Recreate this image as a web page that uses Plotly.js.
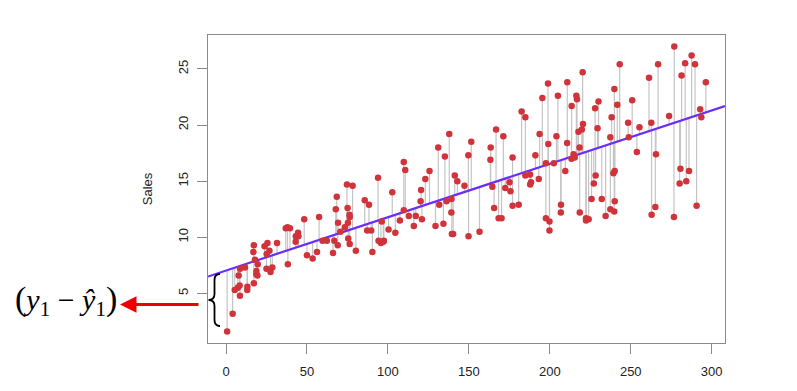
<!DOCTYPE html>
<html>
<head>
<meta charset="utf-8">
<script src="https://cdn.plot.ly/plotly-3.0.1.min.js"></script>
<style>html,body{margin:0;padding:0;background:#fff;}#chart{width:797px;height:391px;}</style>
</head>
<body>
<div id="chart"></div>
<script>
// Advertising data: TV budget and Sales
const tv = [230.1,44.5,17.2,151.5,180.8,8.7,57.5,120.2,8.6,199.8,66.1,214.7,23.8,97.5,204.1,195.4,67.8,281.4,69.2,147.3,
218.4,237.4,13.2,228.3,62.3,262.9,142.9,240.1,248.8,70.6,292.9,112.9,97.2,265.6,95.7,290.7,266.9,74.7,43.1,228,
202.5,177,293.6,206.9,25.1,175.1,89.7,239.9,227.2,66.9,199.8,100.4,216.4,182.6,262.7,198.9,7.3,136.2,210.8,210.7,
53.5,261.3,239.3,102.7,131.1,69,31.5,139.3,237.4,216.8,199.1,109.8,26.8,129.4,213.4,16.9,27.5,120.5,5.4,116,
76.4,239.8,75.3,68.4,213.5,193.2,76.3,110.7,88.3,109.8,134.3,28.6,217.7,250.9,107.4,163.3,197.6,184.9,289.7,135.2,
222.4,296.4,280.2,187.9,238.2,137.9,25,90.4,13.1,255.4,225.8,241.7,175.7,209.6,78.2,75.1,139.2,76.4,125.7,19.4,
141.3,18.8,224,123.1,229.5,87.2,7.8,80.2,220.3,59.6,0.7,265.2,8.4,219.8,36.9,48.3,25.6,273.7,43,184.9,
73.4,193.7,220.5,104.6,96.2,140.3,240.1,243.2,38,44.7,280.7,121,197.6,171.3,187.8,4.1,93.9,149.8,11.7,131.7,
172.5,85.7,188.4,163.5,117.2,234.5,17.9,206.8,215.4,284.3,50,164.5,19.6,168.4,222.4,276.9,248.4,170.2,276.7,165.6,
156.6,218.5,56.2,287.6,253.8,205,139.5,191.1,286,18.7,39.5,75.5,17.2,166.8,149.7,38.2,94.2,177,283.6,232.1];
const sales = [22.1,10.4,9.3,18.5,12.9,7.2,11.8,13.2,4.8,10.6,8.6,17.4,9.2,9.7,19,22.4,12.5,24.4,11.3,14.6,
18,12.5,5.6,15.5,9.7,12,15,15.9,18.9,10.5,21.4,11.9,9.6,17.4,9.5,12.8,25.4,14.7,10.1,21.5,
16.6,17.1,20.7,12.9,8.5,14.9,10.6,23.2,14.8,9.7,11.4,10.7,22.6,21.2,20.2,23.7,5.5,13.2,23.8,18.4,
8.1,24.2,15.7,14,18,9.3,9.5,13.4,18.9,22.3,18.3,12.4,8.8,11,17,8.7,6.9,14.2,5.3,11,
11.8,12.3,11.3,13.6,21.7,15.2,12,16,12.9,16.7,11.2,7.3,19.4,22.2,11.5,16.9,11.7,15.5,25.4,17.2,
11.7,23.8,14.8,14.7,20.7,19.2,7.2,8.7,5.3,19.8,13.4,21.8,14.1,15.9,14.6,12.6,12.2,9.4,15.9,6.6,
15.5,7,11.6,15.2,19.7,10.6,6.6,8.8,24.7,9.7,1.6,12.7,5.7,19.6,10.8,11.6,9.5,20.8,9.6,20.7,
10.9,19.2,20.1,10.4,11.4,10.3,13.2,25.4,10.9,10.1,16.1,11.6,16.6,19,15.6,3.2,15.3,10.1,7.3,12.9,
14.4,13.3,14.9,18,11.9,11.9,8,12.2,17.1,15,8.4,14.5,7.6,11.7,11.5,27,20.2,11.7,11.8,12.6,
10.5,12.2,8.7,26.2,17.6,22.6,10.3,17.3,15.9,6.7,10.8,9.9,5.9,19.6,17.3,7.6,9.7,12.8,25.5,13.4];
const xTicks = [0,50,100,150,200,250,300];
const yTicks = [5,10,15,20,25];
const yLabel = "Sales";
const annotText = "<span style='font-size:34px'>(</span><i>y</i><sub>1</sub> \u2212 <i>\u0177</i><sub>1</sub><span style='font-size:34px'>)</span>";

// least squares fit
const n = tv.length;
const mx = tv.reduce((a,b)=>a+b,0)/n, my = sales.reduce((a,b)=>a+b,0)/n;
let sxy=0, sxx=0;
for (let i=0;i<n;i++){ sxy += (tv[i]-mx)*(sales[i]-my); sxx += (tv[i]-mx)**2; }
const b1 = sxy/sxx, b0 = my - b1*mx;
const fit = tv.map(x=>b0+b1*x);

// R-style 4% range extension
function rng(a){ const lo=Math.min(...a), hi=Math.max(...a), e=(hi-lo)*0.04; return [lo-e, hi+e]; }
const xr = rng(tv), yr = rng(sales);

// residual segments
const segX=[], segY=[];
for (let i=0;i<n;i++){ segX.push(tv[i],tv[i],null); segY.push(sales[i],fit[i],null); }

const traces = [
  {x:segX, y:segY, mode:'lines', line:{color:'#c4c4c4', width:1.2}, hoverinfo:'skip', showlegend:false},
  {x:xr, y:xr.map(x=>b0+b1*x), mode:'lines', line:{color:'#6a2cff', width:2.2}, showlegend:false},
  {x:tv, y:sales, mode:'markers', marker:{color:'#d0333a', size:6.5}, showlegend:false}
];

const L=208, R=72, T=35, B=48, W=797, H=391;
const pw = W-L-R, ph = H-T-B;
const px = v => (v-L)/pw;
const py = v => (H-B-v)/ph;

// curly brace path (paper coords)
const bx0 = 220, bxm = 214.5, bxt = 208.5, yt = 274, ym = 300, yb = 326;
function P(x,y){ return px(x).toFixed(5)+','+py(y).toFixed(5); }
const brace = 'M'+P(bx0,yt)+' Q'+P(bxm,yt)+' '+P(bxm,yt+6)+' L'+P(bxm,ym-6)+' Q'+P(bxm,ym)+' '+P(bxt,ym)+
  ' Q'+P(bxm,ym)+' '+P(bxm,ym+6)+' L'+P(bxm,yb-6)+' Q'+P(bxm,yb)+' '+P(bx0,yb);

const axisCommon = {
  showgrid:false, zeroline:false, showline:true, mirror:true, linecolor:'#8a8a8a', linewidth:1.2,
  ticks:'outside', ticklen:10, tickcolor:'#8a8a8a', tickwidth:1,
  tickfont:{family:'Liberation Sans, Arial, sans-serif', size:13, color:'#222'}
};

const layout = {
  width:W, height:H, margin:{l:L, r:R, t:T, b:B},
  paper_bgcolor:'#fff', plot_bgcolor:'#fff',
  xaxis:Object.assign({}, axisCommon, {range:xr, tickvals:xTicks, ticktext:xTicks.map(String), ticklabelstandoff:6}),
  yaxis:Object.assign({}, axisCommon, {range:yr, tickvals:yTicks, ticktext:yTicks.map(String), tickangle:-90, ticklabelstandoff:4,
    title:{text:yLabel, font:{family:'Liberation Sans, Arial, sans-serif', size:13, color:'#222'}, standoff:20}}),
  shapes:[{type:'path', xref:'paper', yref:'paper', path:brace, line:{color:'#000', width:1.8}}],
  annotations:[
    {xref:'paper', yref:'paper', x:px(120), y:py(304.5), ax:80, ay:0, text:'', showarrow:true,
     arrowhead:2, arrowsize:1.1, arrowwidth:3, arrowcolor:'#ee0000'},
    {xref:'paper', yref:'paper', x:px(66), y:py(300), text:annotText, showarrow:false,
     xanchor:'center', yanchor:'middle', font:{family:'Liberation Serif, Times New Roman, serif', size:30, color:'#000'}}
  ]
};

Plotly.newPlot('chart', traces, layout, {displayModeBar:false, staticPlot:true});
</script>
</body>
</html>
